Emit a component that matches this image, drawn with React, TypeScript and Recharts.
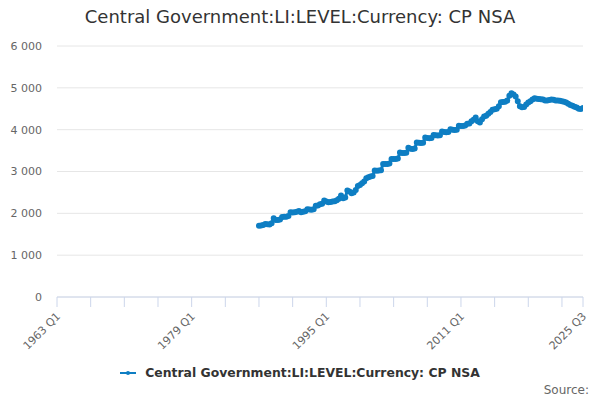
import React from 'react'
import { LineChart, Line, XAxis, YAxis, CartesianGrid } from 'recharts'

const FIRST_YEAR = 1963
const START_INDEX = 96 // 1987 Q1
const LAST_INDEX = 250 // 2025 Q3

const xTicks = [0, 16, 32, 48, 64, 80, 96, 112, 128, 144, 160, 176, 192, 208, 224, 240, 250]
const xLabelTicks = [0, 64, 128, 192, 250]
const yTicks = [0, 1000, 2000, 3000, 4000, 5000, 6000]

// quarterly values, 1987 Q1 .. 2025 Q3
const values = [
  1705, 1710, 1720, 1745,
  1739, 1735, 1760, 1880,
  1842, 1840, 1850, 1910,
  1921, 1920, 1935, 2026,
  2020, 2025, 2040, 2057,
  2026, 2035, 2050, 2097,
  2090, 2085, 2100, 2184,
  2190, 2217, 2230, 2304,
  2280, 2264, 2270, 2280,
  2290, 2310, 2350, 2424,
  2360, 2380, 2543, 2520,
  2480, 2500, 2560, 2655,
  2680, 2720, 2760, 2840,
  2860, 2878, 2890, 3022,
  3020, 3022, 3030, 3182,
  3180, 3182, 3190, 3301,
  3300, 3301, 3310, 3452,
  3445, 3445, 3450, 3565,
  3545, 3540, 3550, 3692,
  3685, 3680, 3690, 3811,
  3800, 3795, 3800, 3875,
  3865, 3860, 3865, 3955,
  3945, 3940, 3945, 4012,
  4000, 3995, 4000, 4091,
  4090, 4090, 4100, 4140,
  4150, 4200, 4240, 4290,
  4200, 4170, 4250, 4314,
  4330, 4380, 4420, 4474,
  4490, 4500, 4560, 4657,
  4660, 4670, 4700, 4810,
  4873, 4840, 4792, 4680,
  4560, 4538, 4540, 4600,
  4648, 4680, 4720, 4753,
  4740, 4735, 4730, 4720,
  4700, 4700, 4710, 4720,
  4715, 4700, 4695, 4690,
  4680, 4670, 4650, 4620,
  4590, 4570, 4550, 4530,
  4500, 4495, 4520,
]

const data = values.map((v, i) => ({ q: START_INDEX + i, value: v }))

const COLOR = '#0e7ec3'
const FONT = '"DejaVu Sans", Verdana, sans-serif'
const TITLE = 'Central Government:LI:LEVEL:Currency: CP NSA'

const quarterLabel = (i: number) => `${FIRST_YEAR + Math.floor(i / 4)} Q${(i % 4) + 1}`
const formatThousands = (v: number) => String(v).replace(/\B(?=(\d{3})+(?!\d))/g, ' ')

function XTick(props: any) {
  const { x, y, payload } = props
  if (!xLabelTicks.includes(payload.value)) return null
  return (
    <text
      x={x + 4}
      y={y + 8}
      textAnchor="end"
      fontSize={11}
      fontFamily={FONT}
      fill="#666666"
      transform={`rotate(-45 ${x + 4} ${y + 8})`}
    >
      {quarterLabel(payload.value)}
    </text>
  )
}

export default function App() {
  return (
    <div style={{ position: 'absolute', left: 0, top: 0, width: 600, height: 400, background: '#fff', fontFamily: FONT }}>
      <div style={{ position: 'absolute', top: 6, left: 0, width: 600, textAlign: 'center', fontSize: 18, color: '#333333' }}>
        {TITLE}
      </div>
      <LineChart width={600} height={400} data={data} margin={{ top: 46, right: 17, bottom: 0, left: 7 }}>
        <CartesianGrid vertical={false} stroke="#e6e6e6" />
        <XAxis
          dataKey="q"
          type="number"
          domain={[0, LAST_INDEX]}
          ticks={xTicks}
          interval={0}
          height={103}
          stroke="#ccd6eb"
          tickSize={10}
          tick={<XTick />}
          allowDataOverflow
        />
        <YAxis
          domain={[0, 6000]}
          ticks={yTicks}
          width={50}
          axisLine={false}
          tickLine={false}
          tickSize={0}
          tickMargin={15}
          tickFormatter={formatThousands}
          tick={{ fontSize: 11, fill: '#666666', fontFamily: FONT }}
        />
        <Line
          type="linear"
          dataKey="value"
          stroke={COLOR}
          strokeWidth={3}
          dot={{ r: 1.5, fill: COLOR, stroke: COLOR }}
          isAnimationActive={false}
        />
      </LineChart>
      <div style={{ position: 'absolute', top: 365, left: 0, width: 600, display: 'flex', justifyContent: 'center', alignItems: 'center', fontSize: 12.4, fontWeight: 'bold', color: '#333333' }}>
        <svg width={20} height={10} style={{ marginRight: 5 }}>
          <line x1={0} y1={5} x2={16} y2={5} stroke={COLOR} strokeWidth={2} />
          <circle cx={8} cy={5} r={2} fill={COLOR} />
        </svg>
        {TITLE}
      </div>
      <div style={{ position: 'absolute', top: 383, right: 11, fontSize: 12, color: '#666666' }}>Source:</div>
    </div>
  )
}
